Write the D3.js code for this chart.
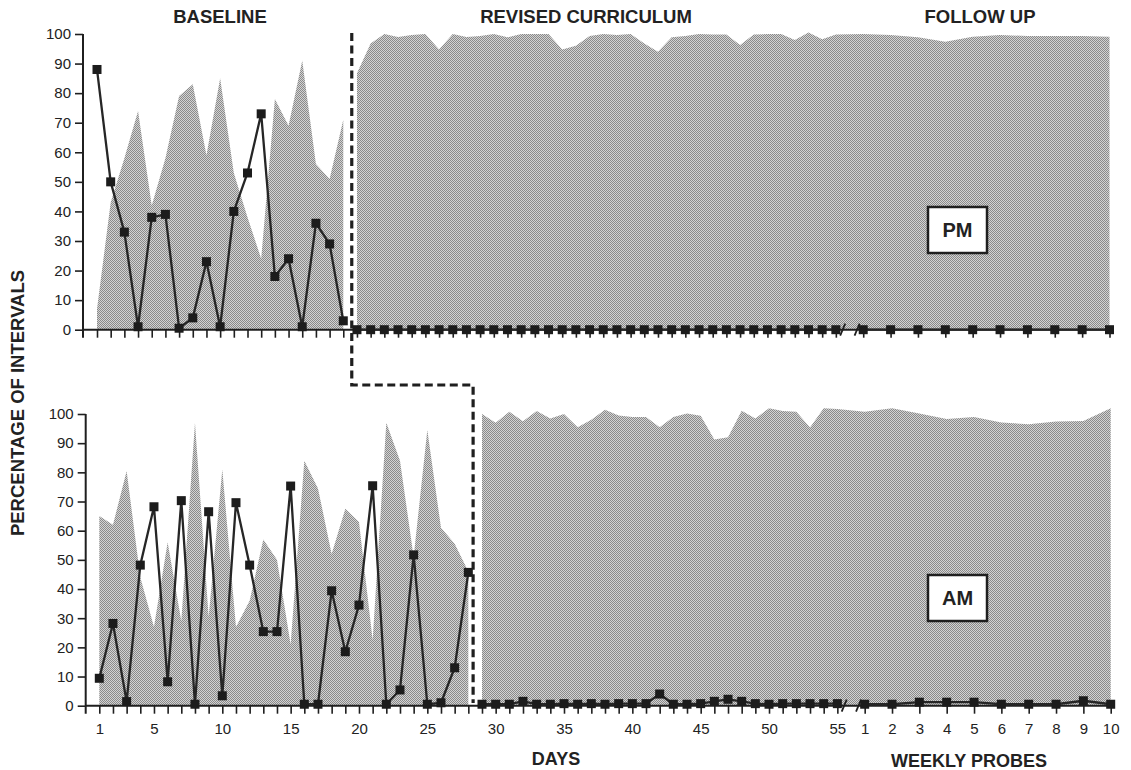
<!DOCTYPE html>
<html>
<head>
<meta charset="utf-8">
<script src="https://cdn.jsdelivr.net/npm/d3@7/dist/d3.min.js"></script>
<style>
  body { margin: 0; background: #fff; }
  svg { display: block; }
  text { font-family: "Liberation Sans", Arial, Helvetica, sans-serif; fill: #222; }
</style>
</head>
<body>
<svg id="chart" width="1131" height="770"></svg>
<script>
// ---- Tick labels ----
const dayLabels = [1, 5, 10, 15, 20, 25, 30, 35, 40, 45, 50, 55];
const weekLabels = [1, 2, 3, 4, 5, 6, 7, 8, 9, 10];
const yTicks = [0, 10, 20, 30, 40, 50, 60, 70, 80, 90, 100];
const phaseTitles = ["BASELINE", "REVISED CURRICULUM", "FOLLOW UP"];

// ---- PM session ----
// shaded area (days 1-19)
const pmBaseArea = [7, 43, 58, 74, 42, 58, 79, 83, 59, 85, 53, 38, 24, 78, 69, 91, 56, 51, 71];
// line with squares (days 1-19)
const pmBaseData = [88, 50, 33, 1, 38, 39, 0.5, 4, 23, 1, 40, 53, 73, 18, 24, 1, 36, 29, 3];
// revised curriculum, days 20-55
const pmTreatArea = [86.7, 96.8, 100, 99, 99.7, 100, 94.8, 100, 99, 99.3, 100, 98.9, 100, 100, 100, 94.8,
  96, 99.3, 100, 99.7, 100, 96.8, 94, 98.9, 99.3, 100, 99.8, 99.8, 96.3, 99.8, 100, 100, 98, 100.5, 98.2, 99.8];
const pmTreatData = [0, 0, 0, 0, 0, 0, 0, 0, 0, 0, 0, 0, 0, 0, 0, 0, 0, 0,
  0, 0, 0, 0, 0, 0, 0, 0, 0, 0, 0, 0, 0, 0, 0, 0, 0, 0];
// follow up, weekly probes 1-10
const pmFollowArea = [100, 99.7, 98.9, 97.4, 99.1, 99.7, 99.3, 99.3, 99.3, 99.1];
const pmFollowData = [0, 0, 0, 0, 0, 0, 0, 0, 0, 0];

// ---- AM session ----
// shaded area (days 1-28)
const amBaseArea = [65, 62, 80.5, 44, 27, 56, 29, 97, 30.5, 81, 27, 36, 57, 50, 21, 84, 74.5, 52, 67.5, 63,
  22.5, 97, 84, 51, 94.5, 61, 55.5, 46];
const amBaseData = [9.4, 28.2, 1.4, 48.2, 68.2, 8.2, 70.3, 0.5, 66.5, 3.4, 69.6, 48.2, 25.4, 25.4, 75.3, 0.5,
  0.5, 39.4, 18.5, 34.5, 75.4, 0.5, 5.4, 51.7, 0.5, 1, 13, 45.7];
// revised curriculum, days 29-55
const amTreatArea = [100, 97, 100.8, 97.5, 101, 98.5, 100, 95.5, 98, 101.5, 99.5, 99, 99, 95.5, 99, 100.2,
  99.4, 91.3, 92, 101.1, 98.5, 102, 101, 100.8, 95.4, 102, 101.7];
const amTreatData = [0.5, 0.5, 0.5, 1.5, 0.5, 0.5, 0.7, 0.5, 0.7, 0.5, 0.7, 0.7, 0.7, 4, 0.5, 0.5, 0.7, 1.5,
  2.2, 1.5, 0.7, 0.5, 0.7, 0.7, 0.7, 0.7, 0.7];
const amFollowArea = [100.8, 102, 100.2, 98.3, 99, 97.1, 96.5, 97.4, 97.6, 102];
const amFollowData = [0.5, 0.5, 1.2, 1.2, 1.2, 0.5, 0.5, 0.5, 1.7, 0.5];

// position on the shared horizontal axis: days run 0..54, then a break, weekly probes every two slots
const dayPos = d => d - 1;
const weekPos = w => 54 + 2 * w;

const svg = d3.select("#chart");

// stippled halftone fill
const defs = svg.append("defs");
const pat = defs.append("pattern").attr("id", "stipple")
  .attr("width", 2).attr("height", 2).attr("patternUnits", "userSpaceOnUse");
pat.append("rect").attr("width", 2).attr("height", 2).attr("fill", "#d3d3d3");
pat.append("rect").attr("width", 1).attr("height", 1).attr("fill", "#8a8a8a");
pat.append("rect").attr("x", 1).attr("y", 1).attr("width", 1).attr("height", 1).attr("fill", "#8a8a8a");

const ink = "#1f1f1f";

function drawPanel(cfg) {
  const x = d3.scaleLinear().domain([0, 74]).range([cfg.xStart, cfg.xEnd]);
  const y = d3.scaleLinear().domain([0, 100]).range([cfg.yZero, cfg.yHundred]);
  const g = svg.append("g");

  const area = d3.area().x(d => x(d.p)).y0(y(0)).y1(d => y(d.v));
  const line = d3.line().x(d => x(d.p)).y(d => y(d.v));

  const base = cfg.baseArea.map((v, i) => ({ p: dayPos(i + 1), v }));
  const first = cfg.baseArea.length + 1;
  const treat = cfg.treatArea.map((v, i) => ({ p: dayPos(first + i), v }))
    .concat(cfg.followArea.map((v, i) => ({ p: weekPos(i + 1), v })));

  g.append("path").attr("d", area(base)).attr("fill", "url(#stipple)");
  g.append("path").attr("d", area(treat)).attr("fill", "url(#stipple)");

  // axes
  const dayTickPos = d3.range(1, 56).map(dayPos);
  const weekTickPos = weekLabels.map(weekPos);
  const xAxis = d3.axisBottom(x)
    .tickValues(dayTickPos.concat(weekTickPos))
    .tickSize(8).tickSizeOuter(0).tickPadding(10)
    .tickFormat(p => {
      if (!cfg.labels) return "";
      if (p <= 54) { const d = p + 1; return dayLabels.includes(d) ? d : ""; }
      return (p - 54) / 2;
    });
  const xg = g.append("g").attr("transform", `translate(0,${y(0)})`).call(xAxis);
  xg.select(".domain").remove();
  xg.selectAll(".tick line").attr("stroke", ink).attr("stroke-width", 1.6);
  xg.selectAll(".tick text").attr("font-size", 15).attr("fill", ink)
    .attr("font-family", "'Liberation Sans', Arial, sans-serif");
  g.append("line").attr("x1", cfg.axisX).attr("x2", cfg.axisEnd)
    .attr("y1", y(0)).attr("y2", y(0)).attr("stroke", ink).attr("stroke-width", 2);

  const yAxis = d3.axisLeft(y).tickValues(yTicks).tickSize(8).tickSizeOuter(0).tickPadding(4);
  const yg = g.append("g").attr("transform", `translate(${cfg.axisX},0)`).call(yAxis);
  yg.select(".domain").remove();
  yg.selectAll(".tick line").attr("stroke", ink).attr("stroke-width", 1.6);
  yg.selectAll(".tick text").attr("font-size", 15).attr("fill", ink)
    .attr("font-family", "'Liberation Sans', Arial, sans-serif");
  g.append("line").attr("x1", cfg.axisX).attr("x2", cfg.axisX)
    .attr("y1", y(0) + 8).attr("y2", y(100)).attr("stroke", ink).attr("stroke-width", 2);

  // break marks between daily and weekly sections
  [54.5, 55.55].forEach(p => {
    g.append("line").attr("x1", x(p) - 2.5).attr("y1", y(0) + 6)
      .attr("x2", x(p) + 2.5).attr("y2", y(0) - 6)
      .attr("stroke", ink).attr("stroke-width", 1.8);
  });

  // data lines and square markers
  const segs = [
    cfg.baseData.map((v, i) => ({ p: dayPos(i + 1), v })),
    cfg.treatData.map((v, i) => ({ p: dayPos(first + i), v })),
    cfg.followData.map((v, i) => ({ p: weekPos(i + 1), v }))
  ];
  segs.forEach(s => {
    g.append("path").attr("d", line(s)).attr("fill", "none")
      .attr("stroke", "#262626").attr("stroke-width", 2.3).attr("stroke-linejoin", "round");
    g.selectAll(null).data(s).enter().append("rect")
      .attr("x", d => x(d.p) - 4.5).attr("y", d => y(d.v) - 4.5)
      .attr("width", 9).attr("height", 9).attr("fill", "#1c1c1c");
  });

  // session label box
  g.append("rect").attr("x", cfg.box[0]).attr("y", cfg.box[1])
    .attr("width", cfg.box[2]).attr("height", cfg.box[3])
    .attr("fill", "#fff").attr("stroke", ink).attr("stroke-width", 2.5);
  g.append("text").attr("x", cfg.box[0] + cfg.box[2] / 2).attr("y", cfg.box[1] + cfg.box[3] / 2 + 7)
    .attr("text-anchor", "middle").attr("font-size", 20).attr("font-weight", "bold").text(cfg.name);

  return x;
}

const xTop = drawPanel({
  name: "PM", xStart: 97, xEnd: 1109.5, yZero: 329.7, yHundred: 34, axisX: 83, axisEnd: 1113,
  baseArea: pmBaseArea, baseData: pmBaseData, treatArea: pmTreatArea, treatData: pmTreatData,
  followArea: pmFollowArea, followData: pmFollowData, labels: false, box: [928, 207, 59, 46]
});
const xBot = drawPanel({
  name: "AM", xStart: 99.3, xEnd: 1110.7, yZero: 705.7, yHundred: 414, axisX: 85.7, axisEnd: 1114,
  baseArea: amBaseArea, baseData: amBaseData, treatArea: amTreatArea, treatData: amTreatData,
  followArea: amFollowArea, followData: amFollowData, labels: true, box: [928, 575, 59, 46]
});

// staggered phase-change line
const px1 = xTop(18.62), px2 = xBot(27.35);
svg.append("path")
  .attr("d", `M${px1},33 V385 H${px2} V703`)
  .attr("fill", "none").attr("stroke", ink).attr("stroke-width", 3.2)
  .attr("stroke-dasharray", "8,4.5");

// phase titles
const titleX = [220, 586, 980];
phaseTitles.forEach((t, i) => {
  svg.append("text").attr("x", titleX[i]).attr("y", 23).attr("text-anchor", "middle")
    .attr("font-size", 18.5).attr("font-weight", "bold").text(t);
});

// axis titles
svg.append("text").attr("transform", "translate(24,403) rotate(-90)")
  .attr("text-anchor", "middle").attr("font-size", 18.5).attr("font-weight", "bold")
  .text("PERCENTAGE OF INTERVALS");
svg.append("text").attr("x", 556).attr("y", 765).attr("text-anchor", "middle")
  .attr("font-size", 18).attr("font-weight", "bold").text("DAYS");
svg.append("text").attr("x", 969).attr("y", 767).attr("text-anchor", "middle")
  .attr("font-size", 18).attr("font-weight", "bold").text("WEEKLY PROBES");
</script>
</body>
</html>
